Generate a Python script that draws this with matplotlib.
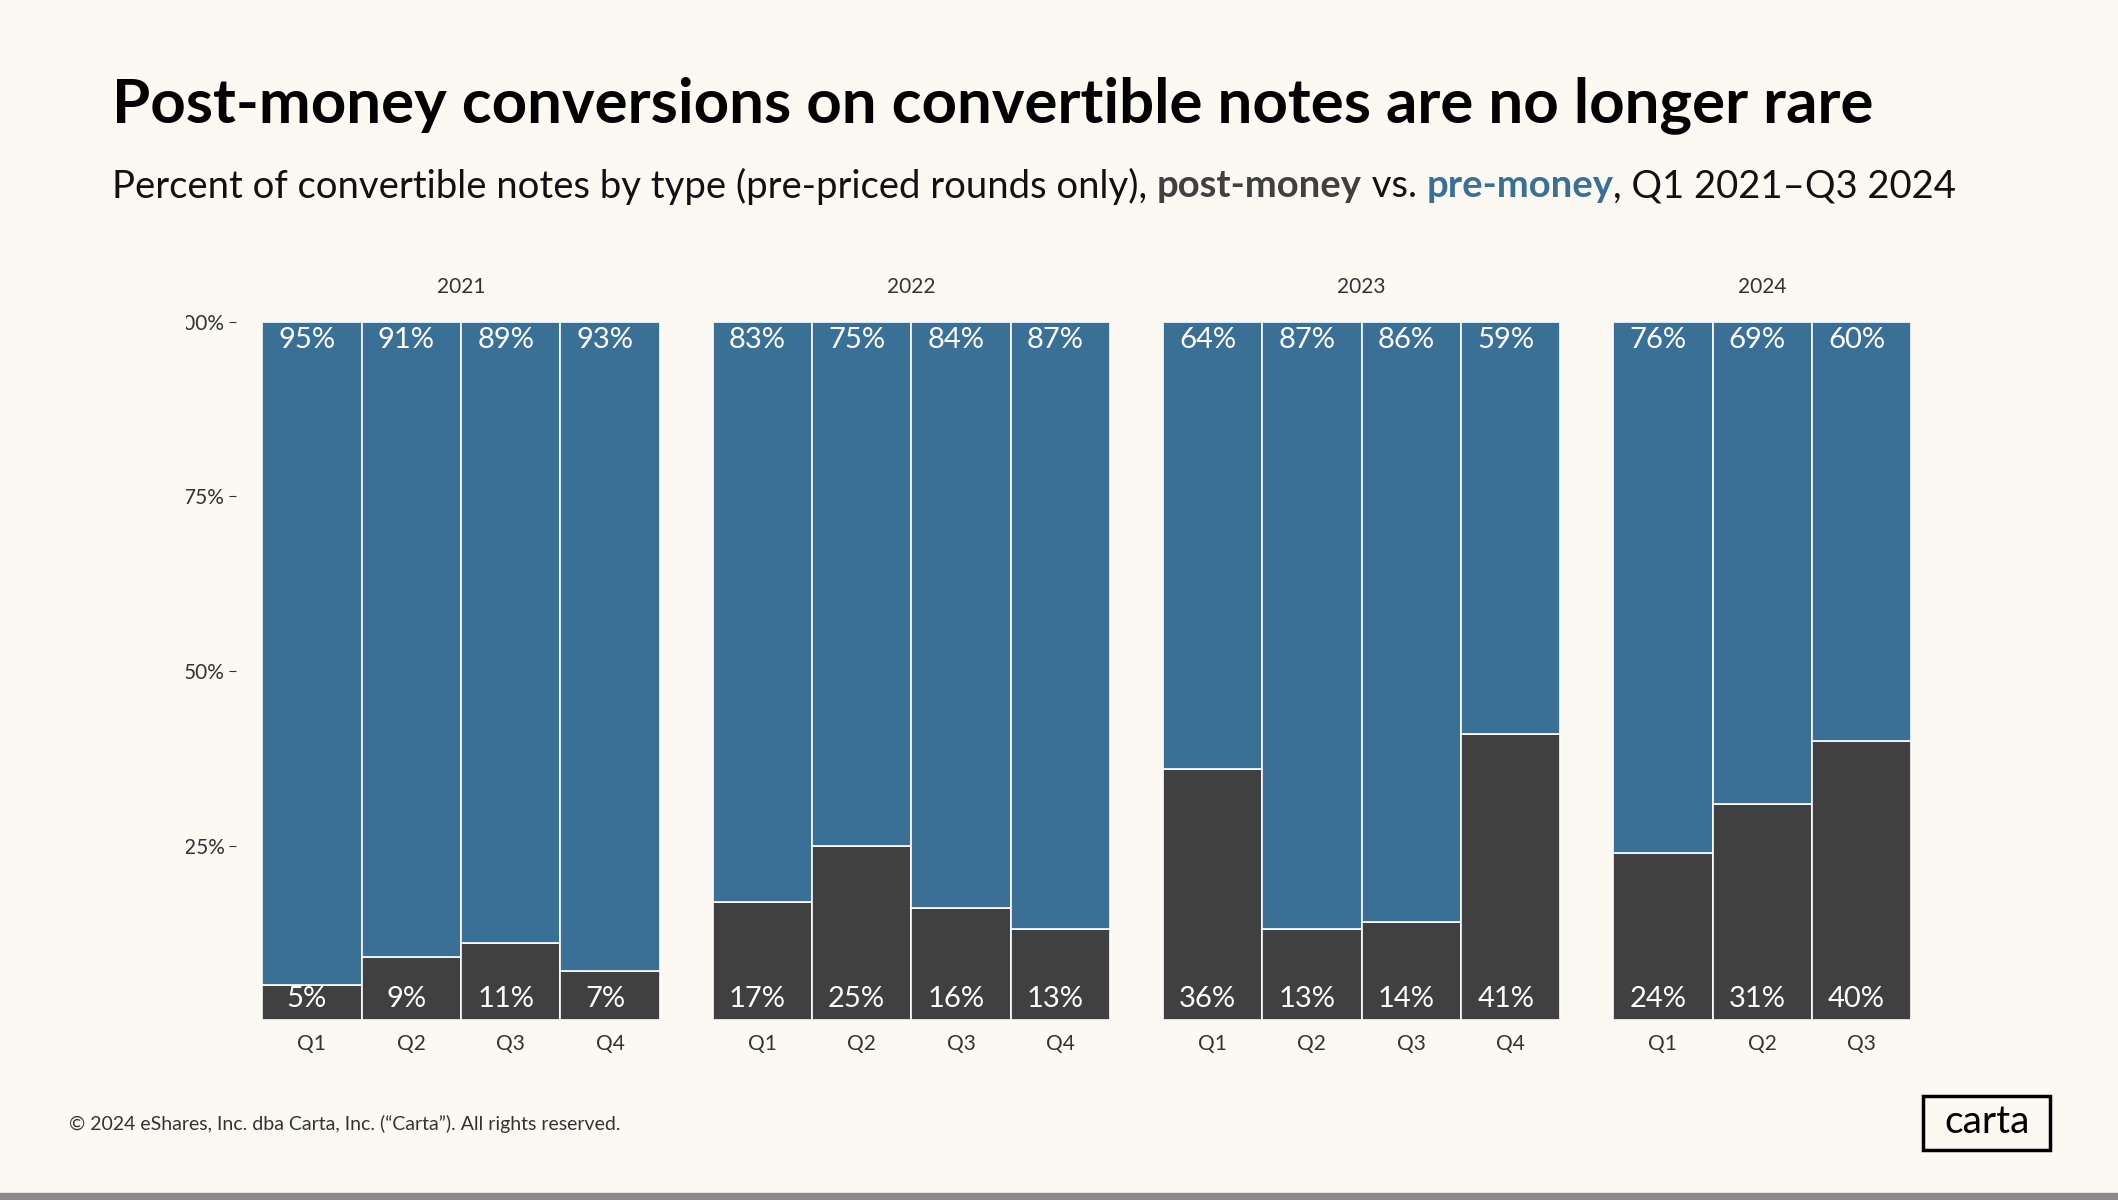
import matplotlib.pyplot as plt
from matplotlib.patches import Rectangle
from matplotlib.transforms import Bbox

plt.rcParams["font.family"] = "Lato"

years = ["2021", "2022", "2023", "2024"]
quarters = [["Q1", "Q2", "Q3", "Q4"], ["Q1", "Q2", "Q3", "Q4"], ["Q1", "Q2", "Q3", "Q4"], ["Q1", "Q2", "Q3"]]
post_money = [[5, 9, 11, 7], [17, 25, 16, 13], [36, 13, 14, 41], [24, 31, 40]]
pre_money = [[95, 91, 89, 93], [83, 75, 84, 87], [64, 87, 86, 59], [76, 69, 60]]

BLUE = "#3b7096"
DARK = "#404040"
BG = "#fcf9f3"
W, H = 1568, 888

fig = plt.figure(figsize=(21.18, 12), dpi=100, facecolor=BG)
fx = lambda px: px / W
fy = lambda py: 1 - py / H

ax = fig.add_axes([fx(175), fy(755), fx(1415 - 175), (755 - 238) / H])
ax.set_facecolor(BG)
gap = 39 / 73.5
starts = [0, 4 + gap, 8 + 2 * gap, 12 + 3 * gap]
xt, xl = [], []
for g in range(4):
    for i, q in enumerate(quarters[g]):
        x = starts[g] + i
        p, r = post_money[g][i], pre_money[g][i]
        ax.bar(x, p, width=1, align="edge", color=DARK, edgecolor="white", linewidth=1.2)
        ax.bar(x, r, bottom=p, width=1, align="edge", color=BLUE, edgecolor="white", linewidth=1.2)
        ax.text(x + 0.45, 97.3, f"{r}%", color="white", fontsize=21, va="center", ha="center")
        ax.text(x + 0.45, 3, f"{p}%", color="white", fontsize=21, va="center", ha="center")
        xt.append(x + 0.5)
        xl.append(q)
    ax.text(starts[g] + 2 if g < 3 else starts[g] + 1.5, 105, years[g],
            ha="center", va="center", fontsize=15, color="#333333")
ax.set_xlim(-0.26, starts[3] + 3)
ax.set_ylim(0, 100)
ax.set_xticks(xt)
ax.set_xticklabels(xl)
ax.set_yticks([25, 50, 75, 100])
ax.set_yticklabels(["25%", "50%", "75%", "100%"])
ax.tick_params(axis="x", length=0, labelsize=15, colors="#333333", pad=10)
ax.tick_params(axis="y", length=5, labelsize=15, colors="#333333", width=0.8)
for s in ax.spines.values():
    s.set_visible(False)

# left part of y labels is cut off in the original
clip = Bbox.from_extents(138 / W * 2118, 0, 2118, 1200)
for t in ax.get_yticklabels():
    t.set_clip_on(True)
    t.set_clip_box(clip)

fig.text(fx(83), fy(78), "Post-money conversions on convertible notes are no longer rare",
         fontsize=44.5, fontweight="bold", va="center", ha="left", color="black")

fig.canvas.draw()
rend = fig.canvas.get_renderer()
parts = [("Percent of convertible notes by type (pre-priced rounds only), ", "#111111", "normal"),
         ("post-money", "#404040", "bold"),
         (" vs. ", "#111111", "normal"),
         ("pre-money", BLUE, "bold"),
         (", Q1 2021\u2013Q3 2024", "#111111", "normal")]
xpos = fx(83)
for txt, col, wt in parts:
    t = fig.text(xpos, fy(138), txt, fontsize=27.5, color=col, fontweight=wt, va="center", ha="left")
    bb = t.get_window_extent(rend)
    xpos += bb.width / fig.bbox.width

fig.text(fx(51), fy(832), "\u00a9 2024 eShares, Inc. dba Carta, Inc. (\u201cCarta\u201d). All rights reserved.",
         fontsize=14, color="#333333", va="center", ha="left")
fig.patches.append(Rectangle((fx(1424), fy(851)), fx(1518 - 1424), (851 - 811) / H,
                             transform=fig.transFigure, fill=False, edgecolor="black", linewidth=2.5))
fig.text(fx(1471), fy(830), "carta", fontsize=28, ha="center", va="center", color="black")
fig.patches.append(Rectangle((0, 0), 1, 5 / H, transform=fig.transFigure, color="#8a8a8a"))

fig.savefig("out.png", dpi=100, facecolor=BG)
